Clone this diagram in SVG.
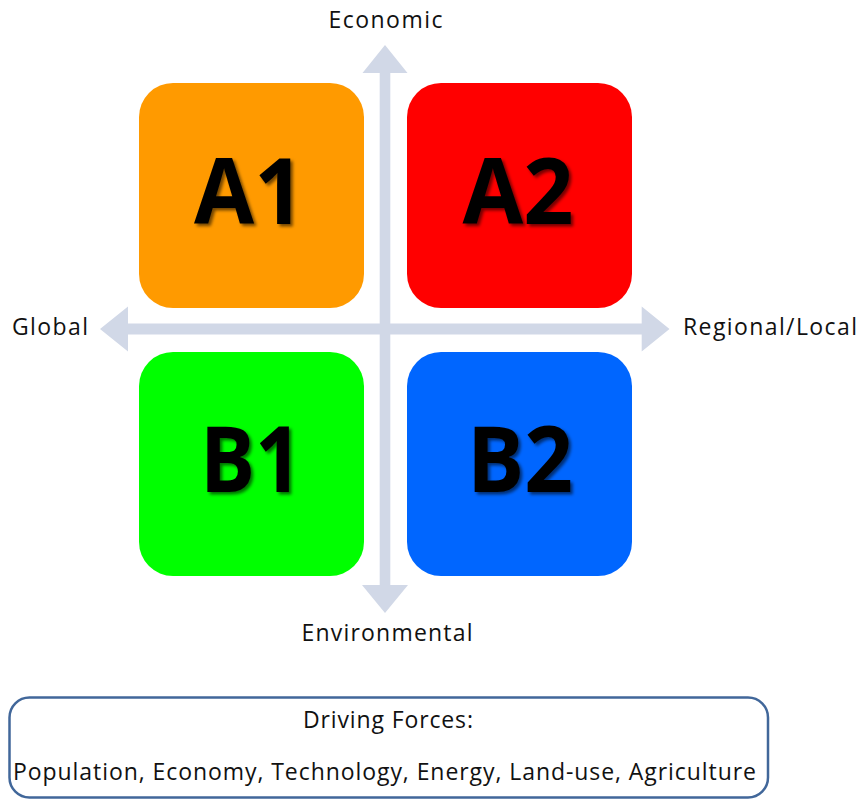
<svg xmlns="http://www.w3.org/2000/svg" width="860" height="801" viewBox="0 0 860 801">
  <style>
    .axis { fill: #D1D8E7; }
    .quad { stroke: none; }
    .big { font-family: "Open Sans", "Liberation Sans", sans-serif; font-weight: bold; font-size: 92px; fill: #000; text-anchor: middle; }
    .lbl { font-family: "Open Sans", "Liberation Sans", sans-serif; font-size: 23px; fill: #111; }
    .note { font-family: "Open Sans", "Liberation Sans", sans-serif; font-size: 23px; fill: #111; }
  </style>
  <defs>
    <filter id="shade" x="-20%" y="-20%" width="140%" height="140%">
      <feDropShadow dx="2.5" dy="2.5" stdDeviation="1.5" flood-color="#000" flood-opacity="0.55"/>
    </filter>
  </defs>

  <!-- axes -->
  <g id="axes" class="axis">
    <!-- vertical double arrow -->
    <polygon points="385,45 407.5,73 390.3,73 390.3,585 408,585 385,613 362,585 379.7,585 379.7,73 362.5,73"/>
    <!-- horizontal double arrow -->
    <polygon points="100,329 128,306.5 128,323.5 641.7,323.5 641.7,306.5 669.5,329 641.7,351.5 641.7,334.5 128,334.5 128,351.5"/>
  </g>

  <!-- quadrants -->
  <g id="A1">
    <rect class="quad" x="139" y="83" width="225" height="225" rx="34" fill="#FF9A00"/>
    <text class="big" x="249" y="224" textLength="110" lengthAdjust="spacingAndGlyphs" filter="url(#shade)">A1</text>
  </g>
  <g id="A2">
    <rect class="quad" x="407" y="83" width="225" height="225" rx="34" fill="#FF0000"/>
    <text class="big" x="518" y="224" textLength="111" lengthAdjust="spacingAndGlyphs" filter="url(#shade)">A2</text>
  </g>
  <g id="B1">
    <rect class="quad" x="139" y="352" width="225" height="224" rx="34" fill="#00FF00"/>
    <text class="big" x="251" y="492" textLength="102" lengthAdjust="spacingAndGlyphs" filter="url(#shade)">B1</text>
  </g>
  <g id="B2">
    <rect class="quad" x="407" y="352" width="225" height="224" rx="34" fill="#0066FF"/>
    <text class="big" x="520" y="492" textLength="106" lengthAdjust="spacingAndGlyphs" filter="url(#shade)">B2</text>
  </g>

  <!-- axis labels -->
  <g id="labels">
    <text class="lbl" x="385.5" y="28" text-anchor="middle" textLength="114">Economic</text>
    <text class="lbl" x="12" y="335" textLength="76">Global</text>
    <text class="lbl" x="683" y="335" textLength="174">Regional/Local</text>
    <text class="lbl" x="387" y="641" text-anchor="middle" textLength="171">Environmental</text>
  </g>

  <!-- driving forces box -->
  <g id="forces">
    <rect x="9.5" y="697.5" width="758.5" height="100" rx="20" fill="#FFFFFF" stroke="#41679A" stroke-width="2.5"/>
    <text class="note" x="388" y="728" text-anchor="middle" textLength="170">Driving Forces:</text>
    <text class="note" x="13" y="780" textLength="743">Population, Economy, Technology, Energy, Land-use, Agriculture</text>
  </g>
</svg>
